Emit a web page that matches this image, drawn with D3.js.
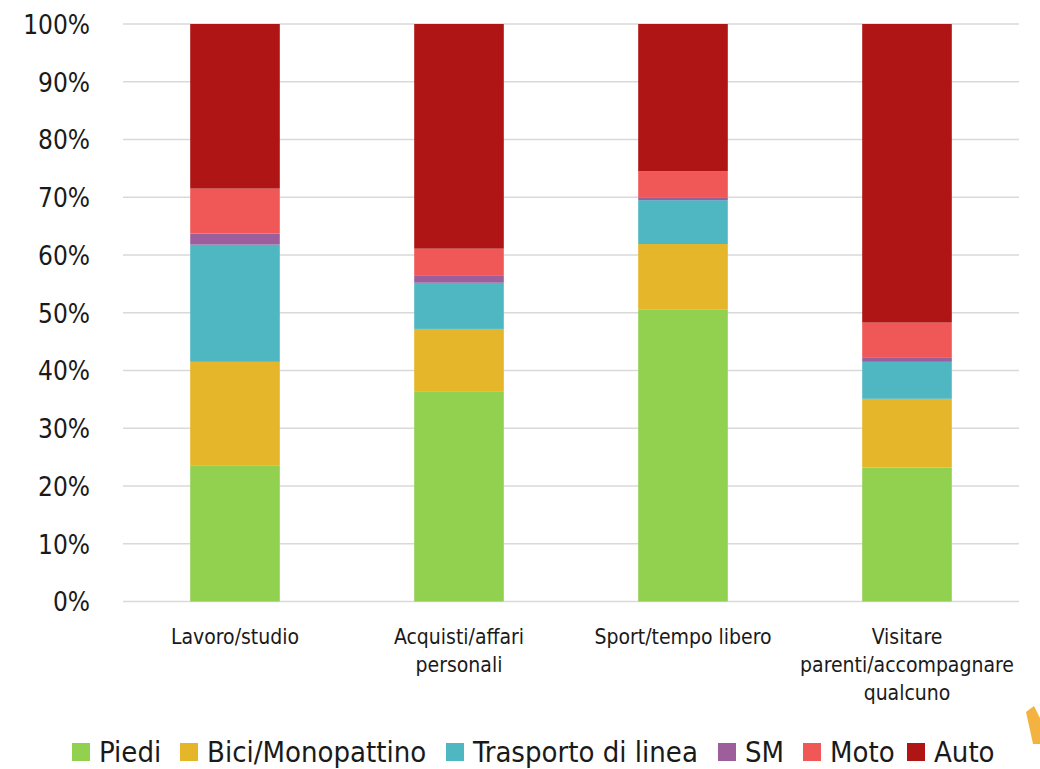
<!DOCTYPE html>
<html><head><meta charset="utf-8">
<script src="https://cdn.jsdelivr.net/npm/d3@7"></script>
<style>
html,body{margin:0;padding:0;background:#fff;}
text{font-family:"DejaVu Sans Condensed","DejaVu Sans",sans-serif;fill:#1a1a1a;}
</style></head>
<body>
<svg id="chart" width="1040" height="769"></svg>
<script>
const categories = [["Lavoro/studio"],["Acquisti/affari","personali"],["Sport/tempo libero"],["Visitare","parenti/accompagnare","qualcuno"]];
const catKeys = ["Lavoro/studio","Acquisti/affari personali","Sport/tempo libero","Visitare parenti/accompagnare qualcuno"];
const seriesNames = ["Piedi","Bici/Monopattino","Trasporto di linea","SM","Moto","Auto"];
const piedi = [23.5, 36.3, 50.6, 23.2];
const bici = [18.0, 10.9, 11.3, 11.9];
const trasporto = [20.3, 8.0, 7.6, 6.4];
const sm = [1.9, 1.3, 0.5, 0.8];
const moto = [7.8, 4.6, 4.5, 6.0];
const auto = [28.5, 38.9, 25.5, 51.7];
const tickValues = [0,10,20,30,40,50,60,70,80,90,100];
const colors = ["#92d050","#e5b52a","#4fb7c2","#9c5f9c","#f05757","#af1515"];

const seriesVals = [piedi,bici,trasporto,sm,moto,auto];
const rows = catKeys.map((k,i)=>{const o={cat:k}; seriesNames.forEach((s,j)=>o[s]=seriesVals[j][i]); return o;});
const stack = d3.stack().keys(seriesNames)(rows);

const svg = d3.select("#chart");
const x = d3.scaleBand().domain(catKeys).range([123,1019]).paddingInner(0.6).paddingOuter(0.3);
const y = d3.scaleLinear().domain([0,100]).range([601.5,24]);

// gridlines
svg.append("g").selectAll("line").data(tickValues).join("line")
  .attr("x1",123).attr("x2",1019)
  .attr("y1",d=>y(d)).attr("y2",d=>y(d))
  .attr("stroke","#d9d9d9").attr("stroke-width",1.5);

// y axis labels
const yAxis = d3.axisLeft(y).tickValues(tickValues).tickFormat(d=>d+"%").tickSize(0).tickPadding(0);
const ya = svg.append("g").attr("transform","translate(90,0)").call(yAxis);
ya.select(".domain").remove();
ya.selectAll("text").attr("font-size",26).attr("dy","0.36em").style("font-family",'"DejaVu Sans Condensed",sans-serif').attr("fill","#1a1a1a");

// bars
svg.append("g").selectAll("g").data(stack).join("g")
  .attr("fill",(d,i)=>colors[i])
  .selectAll("rect").data(d=>d).join("rect")
  .attr("x",d=>x(d.data.cat)).attr("width",x.bandwidth())
  .attr("y",d=>y(d[1])).attr("height",d=>y(d[0])-y(d[1]));

// category labels
const cl = svg.append("g");
catKeys.forEach((k,i)=>{
  const cx = x(k)+x.bandwidth()/2;
  const t = cl.append("text").attr("text-anchor","middle").attr("font-size",21)
    .attr("x",cx).attr("y",644);
  categories[i].forEach((ln,j)=>t.append("tspan").attr("x",cx).attr("dy",j===0?0:28).text(ln));
});

// legend
const legX = [72,180,446,718,803,907];
const lg = svg.append("g");
seriesNames.forEach((s,i)=>{
  lg.append("rect").attr("x",legX[i]).attr("y",743).attr("width",18).attr("height",18).attr("fill",colors[i]);
  lg.append("text").attr("x",legX[i]+27).attr("y",752).attr("dy","0.36em").attr("font-size",29).text(s);
});

// decorative logo fragment at bottom right
svg.append("path").attr("d","M1026,712 L1034,706 L1040,718 L1040,744 L1033,744 Z").attr("fill","#f2a51e").attr("opacity",0.85);
</script>
</body></html>
